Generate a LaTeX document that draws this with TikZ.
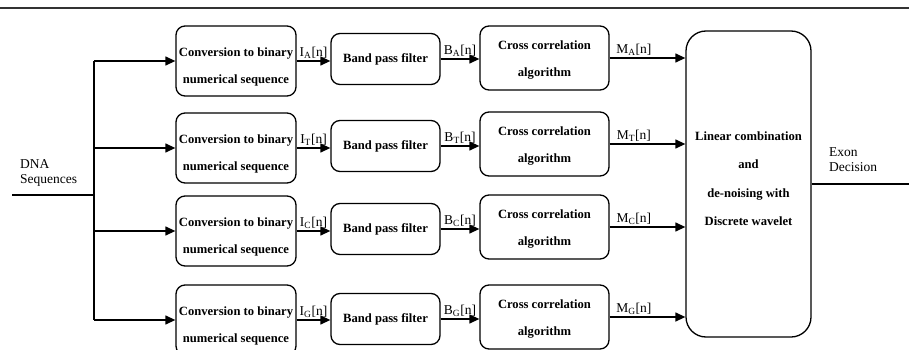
\documentclass[tikz,border=0pt]{standalone}
\usepackage{fontspec}
\setmainfont{Liberation Serif}
\usetikzlibrary{arrows.meta}

\tikzset{
  blk/.style={draw, line width=1.3pt, rounded corners=9pt, align=center, inner sep=0pt,
    font=\bfseries\fontsize{12.6}{27}\selectfont},
  arr/.style={line width=1.3pt, -{Triangle[length=10pt,width=9pt]}},
  lbl/.style={font=\fontsize{13.5}{15}\selectfont, inner sep=1.5pt}
}

\begin{document}
\begin{tikzpicture}[x=1pt, y=-1pt]
    \useasboundingbox (0,0) rectangle (909,350);

    \def\SplitX{94}
    \def\InY{195}

    % rule across the top
    \draw[line width=1.8pt, black!80] (0,8) -- (909,8);

    % combining block
    \node[blk, rounded corners=20pt, minimum width=125pt, minimum height=306pt] (comb) at (748.5,184)
      {Linear combination\\[1.5pt]and\\[1.5pt]de-noising with\\[1.5pt]Discrete wavelet\rule[-11pt]{0pt}{11pt}};

    % input
    \coordinate (in) at (12,\InY);
    \coordinate (split) at (\SplitX,\InY);
    \node[lbl, align=left, anchor=south west, inner sep=0pt] (dna) at (20,187) {DNA\\Sequences};
    \draw[line width=1.3pt] (in) -- (split);

    % Rows: base/conversion y/filter y/correlation y
    \foreach \b/\yi/\yf/\yx in {A/61/59/58, T/148/146/144, C/231/229/227, G/320/319/317} {
      \node[blk, minimum width=120pt, minimum height=70pt] (conv\b) at (236,\yi)
        {\rule{0pt}{21pt}Conversion to binary\\numerical sequence};
      \node[blk, minimum width=109pt, minimum height=51pt] (bpf\b) at (385.5,\yf)
        {Band pass filter};
      \node[blk, minimum width=129pt, minimum height=64pt] (cc\b) at (544.5,\yx)
        {\rule{0pt}{13pt}Cross correlation\\algorithm};

      \draw[arr] (split |- conv\b.west) -- (conv\b.west);
      \draw[arr] (conv\b.east) -- (conv\b.east -| bpf\b.west)
        node[lbl, midway, above] {I\textsubscript{\b}[n]};
      \draw[arr] (bpf\b.east) -- (bpf\b.east -| cc\b.west)
        node[lbl, midway, above] {B\textsubscript{\b}[n]};
      \draw[arr] (cc\b.east) -- (cc\b.east -| comb.west)
        node[lbl, pos=0.32, above] {M\textsubscript{\b}[n]};
    }

    % fan-out line
    \draw[line width=1.3pt] (split |- convA.west) -- (split |- convG.west);

    % output
    \coordinate (out) at (919,184);
    \node[lbl, align=left, anchor=south west, inner sep=0pt] (exon) at (829,172) {Exon\\Decision};
    \draw[arr] (comb.east) -- (out);
\end{tikzpicture}
\end{document}
